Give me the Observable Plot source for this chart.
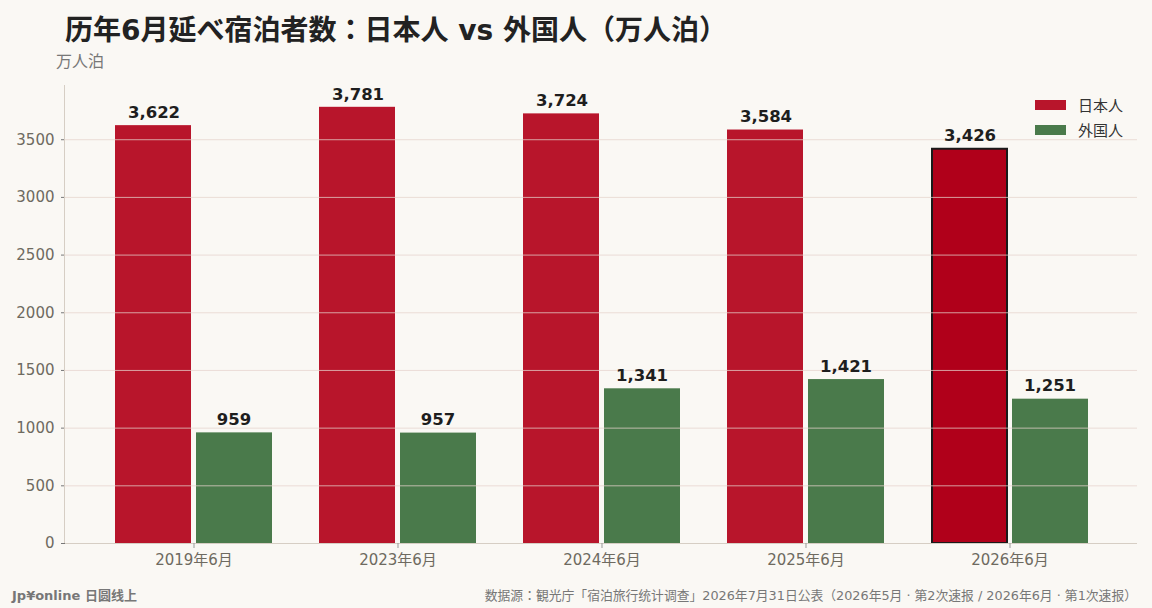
<!DOCTYPE html>
<html>
<head>
<meta charset="utf-8">
<script src="https://cdn.jsdelivr.net/npm/d3@7"></script>
<script src="https://cdn.jsdelivr.net/npm/@observablehq/plot@0.6"></script>
<style>
  html, body { margin: 0; padding: 0; background: #faf8f4; }
  body { width: 1152px; height: 608px; position: relative; overflow: hidden;
         font-family: "DejaVu Sans", "Noto Sans CJK JP", sans-serif; }
  #title { position: absolute; left: 65px; top: 8px; font-size: 28px; font-weight: bold; color: #222; white-space: nowrap; }
  #unit { position: absolute; left: 56px; top: 48px; font-size: 16px; color: #777; }
  #chart { position: absolute; left: 0; top: 70px; }
  #legend { position: absolute; left: 1035px; top: 92px; font-size: 15px; color: #333; }
  #legend .row { display: flex; align-items: center; height: 25px; }
  #legend .sw { width: 31px; height: 10px; margin-right: 12px; }
  #footL { position: absolute; left: 12px; top: 585px; font-size: 13px; font-weight: bold; color: #777; }
  #footR { position: absolute; right: 15px; top: 585px; font-size: 12.8px; color: #777; white-space: nowrap; }
</style>
</head>
<body>
<div id="title">历年6月延べ宿泊者数：日本人 vs 外国人（万人泊）</div>
<div id="unit">万人泊</div>
<div id="chart"></div>
<div id="legend"></div>
<div id="footL">Jp¥online 日圆线上</div>
<div id="footR">数据源：観光庁「宿泊旅行统计调查」2026年7月31日公表（2026年5月 · 第2次速报 / 2026年6月 · 第1次速报）</div>
<script>
const periods = ["2019年6月", "2023年6月", "2024年6月", "2025年6月", "2026年6月"];
const japanese = [3622, 3781, 3724, 3584, 3426];
const foreign = [959, 957, 1341, 1421, 1251];
const seriesNames = ["日本人", "外国人"];
const seriesColors = ["#b8152b", "#4a7a4b"];
const highlightPeriod = "2026年6月";
const yTicks = [0, 500, 1000, 1500, 2000, 2500, 3000, 3500];

const jp = periods.map((p, i) => ({period: p, value: japanese[i]}));
const fg = periods.map((p, i) => ({period: p, value: foreign[i]}));
const fmt = d3.format(",");

const chart = Plot.plot({
  width: 1152,
  height: 505,
  marginLeft: 65,
  marginRight: 15,
  marginTop: 15,
  marginBottom: 32,
  style: {background: "transparent", fontFamily: "'DejaVu Sans', 'Noto Sans CJK JP', sans-serif"},
  x: {domain: periods, paddingInner: 0.2323, paddingOuter: 0.2347, label: null},
  y: {domain: [0, 3970], label: null},
  marks: [
    Plot.barY(jp.filter(d => d.period !== highlightPeriod), {x: "period", y: "value", fill: seriesColors[0], insetRight: 81}),
    Plot.barY(jp.filter(d => d.period === highlightPeriod), {x: "period", y: "value", fill: "#b0001a", stroke: "#1a1a1a", strokeWidth: 2, insetRight: 81, insetLeft: 1, insetTop: 1}),
    Plot.barY(fg, {x: "period", y: "value", fill: seriesColors[1], insetLeft: 81}),
    Plot.ruleY(yTicks.slice(1), {stroke: "#e6d3cc", strokeOpacity: 0.75, strokeWidth: 1}),
    Plot.ruleY([0], {stroke: "#d6cec4"}),
    Plot.text(jp, {x: "period", y: "value", text: d => fmt(d.value), dx: -40, dy: -13, fontSize: 16.5, fontWeight: "bold", fill: "#1e1e1e"}),
    Plot.text(fg, {x: "period", y: "value", text: d => fmt(d.value), dx: 40, dy: -13, fontSize: 16.5, fontWeight: "bold", fill: "#1e1e1e"}),
    Plot.axisY({ticks: yTicks, tickFormat: d => String(d), fontSize: 15, color: "#6e6a60", stroke: "#777", tickSize: 4, tickPadding: 7}),
    Plot.axisX({fontSize: 15, color: "#6e6a60", tickSize: 5, tickPadding: 6, stroke: "#999"})
  ]
});
document.getElementById("chart").appendChild(chart);

// left axis line along the plot frame, using the chart's own y scale range
const yr = chart.scale("y").range;
d3.select(chart).append("line")
  .attr("x1", 64.5).attr("x2", 64.5)
  .attr("y1", yr[0]).attr("y2", yr[1])
  .attr("stroke", "#d6cec4");

const legend = document.getElementById("legend");
seriesNames.forEach((n, i) => {
  const row = document.createElement("div");
  row.className = "row";
  row.innerHTML = `<div class="sw" style="background:${seriesColors[i]}"></div><span>${n}</span>`;
  legend.appendChild(row);
});
</script>
</body>
</html>
